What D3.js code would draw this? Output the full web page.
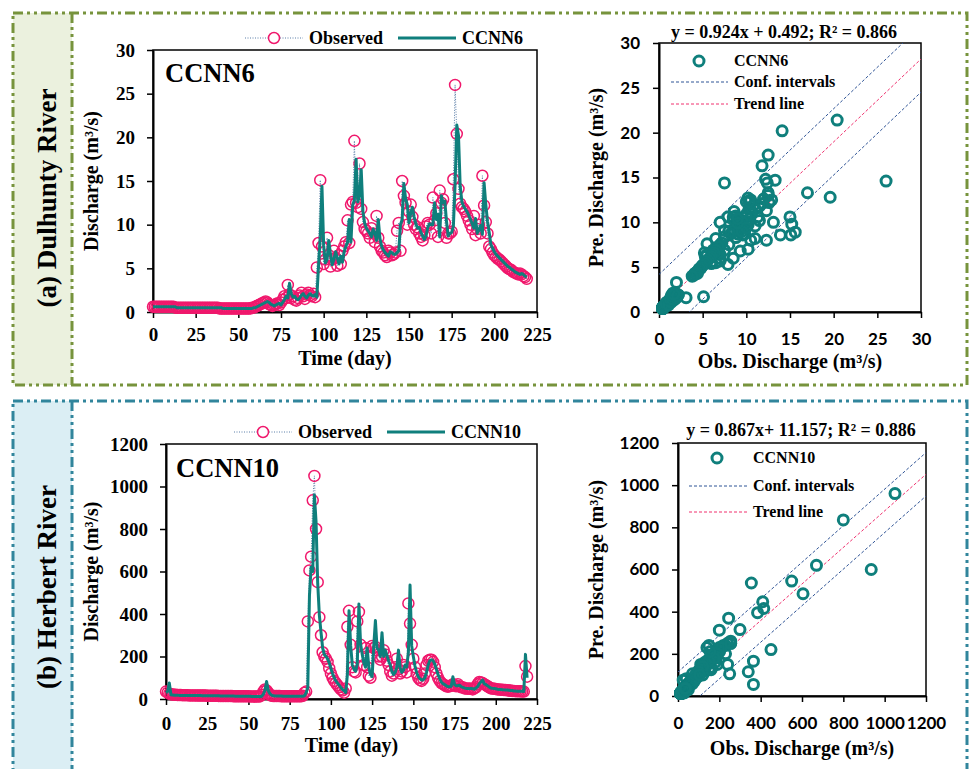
<!DOCTYPE html>
<html>
<head>
<meta charset="utf-8">
<script src="https://cdn.jsdelivr.net/npm/d3@7"></script>
<style>
  body { margin: 0; background: #fff; }
</style>
</head>
<body>
<svg id="chart" width="970" height="769"></svg>
<script>
// ---- data ----
const obsDulhunty = [
  0.6,0.6,0.6,0.6,0.6,0.6,0.6,0.6,0.6,0.6,
  0.6,0.6,0.6,0.5,0.5,0.5,0.5,0.5,0.5,0.5,
  0.5,0.5,0.5,0.5,0.5,0.5,0.5,0.5,0.5,0.5,
  0.5,0.5,0.5,0.5,0.5,0.5,0.5,0.5,0.5,0.4,
  0.4,0.4,0.4,0.4,0.4,0.4,0.4,0.4,0.4,0.4,
  0.4,0.4,0.4,0.4,0.4,0.4,0.4,0.4,0.5,0.5,
  0.6,0.7,0.8,0.9,1.0,1.1,1.2,1.1,0.9,0.8,
  0.7,0.8,0.9,1.0,0.8,1.1,1.4,1.8,1.6,3.1,
  2.0,1.6,1.8,1.4,1.3,1.6,1.9,2.2,1.8,1.5,
  2.0,2.2,1.9,1.8,2.1,1.7,5.1,7.9,15.1,7.5,
  5.5,6.0,8.5,6.5,5.2,6.0,7.0,6.2,5.3,6.5,
  5.5,7.0,7.5,8.0,10.5,7.9,12.3,12.6,19.6,12.5,
  12.0,17.0,11.8,10.3,9.5,9.3,9.0,8.5,9.6,9.0,
  8.0,11.0,8.5,7.5,7.0,6.8,6.5,6.3,7.0,6.8,
  6.5,6.6,6.8,9.3,10.2,7.0,15.0,13.3,12.5,10.0,
  11.5,12.3,10.9,10.0,9.5,9.7,9.0,8.6,8.2,8.8,
  9.8,10.2,10.0,9.0,13.1,10.5,11.3,8.6,13.9,12.5,
  12.9,10.2,8.5,9.0,9.0,9.2,15.2,26.0,20.4,14.1,
  12.4,12.0,11.8,11.5,11.0,10.5,10.0,9.5,11.0,8.8,
  9.5,10.0,9.0,15.6,12.2,10.3,9.0,7.5,7.2,6.8,
  6.5,6.3,6.1,6.0,5.8,5.6,5.4,5.2,5.0,4.9,
  4.8,4.6,4.5,4.4,4.3,4.4,4.3,4.1,4.0,3.8
];
const preDulhunty = [
  0.6,0.6,0.6,0.6,0.6,0.6,0.6,0.6,0.6,0.6,
  0.6,0.6,0.6,0.6,0.5,0.5,0.5,0.5,0.5,0.5,
  0.5,0.5,0.5,0.5,0.5,0.5,0.5,0.5,0.5,0.5,
  0.5,0.5,0.5,0.5,0.5,0.5,0.5,0.5,0.5,0.5,
  0.5,0.4,0.4,0.4,0.4,0.4,0.4,0.4,0.4,0.4,
  0.4,0.4,0.4,0.4,0.4,0.4,0.4,0.4,0.4,0.5,
  0.5,0.6,0.7,0.8,0.9,1.0,1.1,1.2,1.1,0.9,
  0.8,0.7,0.8,0.9,1.0,0.8,1.1,1.4,1.8,1.6,
  3.3,2.1,1.7,1.8,1.5,1.4,1.6,1.9,2.1,1.8,
  1.6,1.9,2.1,1.9,1.8,2.0,1.7,5.3,8.6,14.4,
  7.6,5.6,6.0,8.2,6.6,5.4,6.0,6.9,6.2,5.5,
  6.4,5.7,6.9,7.5,8.0,10.6,8.0,12.2,12.8,17.5,
  12.6,13.3,16.3,11.5,10.2,9.6,9.3,9.0,8.6,9.5,
  9.0,8.2,10.6,8.4,7.5,7.1,6.8,6.6,6.4,6.9,
  6.8,6.6,6.6,6.8,7.0,10.0,10.6,14.7,13.0,12.3,
  10.2,11.3,12.0,10.9,10.1,9.6,9.7,9.1,8.7,8.3,
  8.7,9.7,10.1,10.0,10.0,12.5,10.6,11.2,8.6,13.3,
  12.5,12.7,10.3,8.7,9.0,9.1,9.8,14.6,21.4,20.2,
  14.4,12.6,12.1,11.8,11.5,11.1,10.6,10.1,9.6,10.7,
  9.0,9.4,9.9,8.9,14.8,12.3,10.4,9.1,7.7,7.3,
  6.9,6.6,6.4,6.2,6.0,5.8,5.6,5.4,5.2,5.1,
  4.9,4.8,4.6,4.5,4.4,4.3,4.4,4.3,4.1,4.0
];
const obsHerbert = [
  35,30,25,22,21,20,20,19,19,19,
  18,18,18,18,17,17,17,17,17,16,
  16,16,16,16,16,15,15,15,15,15,
  15,15,14,14,14,14,14,14,14,14,
  14,13,13,13,13,13,13,13,13,13,
  13,12,12,12,12,12,12,12,20,35,
  45,40,30,20,15,14,14,14,14,14,
  13,13,13,13,13,13,13,13,13,13,
  13,13,13,15,30,35,365,605,670,935,
  1050,800,550,385,300,220,200,190,175,145,
  120,100,85,75,65,55,45,40,30,50,
  340,415,255,150,130,125,365,410,255,200,
  160,240,150,110,100,250,240,245,230,200,
  185,200,230,210,180,160,130,110,120,150,
  190,140,120,130,160,150,125,450,355,255,
  190,150,120,100,90,85,95,120,160,180,
  185,185,175,150,120,100,85,75,70,65,
  60,58,60,62,70,65,60,70,60,55,
  55,50,50,48,50,48,45,50,55,70,
  80,78,75,70,65,60,55,50,50,48,
  47,45,45,44,43,42,42,41,40,40,
  38,38,37,37,36,36,35,35,155,105
];
const preHerbert = [
  30,35,75,20,19,18,18,18,17,17,
  17,17,17,17,16,16,16,16,16,16,
  16,16,15,15,15,15,15,15,15,15,
  15,15,15,14,14,14,14,14,14,14,
  14,14,13,13,13,13,13,13,13,13,
  13,13,12,12,12,12,12,12,12,22,
  40,82,40,25,18,15,14,14,14,14,
  14,13,13,13,13,13,13,13,13,13,
  13,13,13,13,15,30,55,485,620,600,
  960,835,545,395,315,240,210,200,190,170,
  145,120,100,85,75,65,55,45,40,30,
  115,415,250,160,140,130,165,447,260,210,
  170,150,240,150,115,105,250,369,240,230,
  200,312,200,230,205,180,160,130,115,125,
  150,230,145,125,135,160,150,220,536,250,
  200,155,125,105,95,90,90,100,125,160,
  180,185,180,165,140,115,95,80,72,68,
  62,58,58,60,105,68,62,62,65,58,
  55,52,50,50,48,50,48,46,52,58,
  72,80,89,72,68,62,57,52,50,49,
  48,46,45,45,44,43,42,42,41,40,
  40,38,38,37,37,36,36,35,210,100
];
const timeTicks = [0, 25, 50, 75, 100, 125, 150, 175, 200, 225];
const dulTicks = [0, 5, 10, 15, 20, 25, 30];
const herTicks = [0, 200, 400, 600, 800, 1000, 1200];
const dulFit = { slope: 0.924, icpt: 0.492, band: 3.7 };
const herFit = { slope: 0.867, icpt: 11.157, band: 103 };

// ---- styles ----
const SERIF = '"Liberation Serif", "Times New Roman", serif';
const SANS = 'Lato, "Open Sans", sans-serif';
const PINK = "#f0186c";
const TEAL = "#0f7f7c";
const plain = d3.format("d");

const svg = d3.select("#chart");

function text(g, x, y, str, size, opt = {}) {
  const t = g.append("text")
    .attr("x", x).attr("y", y)
    .attr("text-anchor", opt.anchor || "start")
    .style("font-family", opt.font || SERIF)
    .style("font-weight", "bold")
    .style("font-size", size + "px")
    .attr("fill", "#000")
    .text(str);
  if (opt.rotate) t.attr("transform", `rotate(-90, ${x}, ${y})`);
  return t;
}

function styleAxis(g, font, size) {
  g.select(".domain").attr("stroke", "#000").attr("stroke-width", 2);
  g.selectAll(".tick line").attr("stroke", "#000").attr("stroke-width", 1.5);
  g.selectAll(".tick text")
    .style("font-family", font).style("font-size", size + "px")
    .style("font-weight", "bold").attr("fill", "#000");
}

//Panel frames with dash-dot-dot border
function panel(y0, h, stroke, fill, name) {
  svg.append("rect").attr("x", 13).attr("y", y0).attr("width", 59).attr("height", h).attr("fill", fill);
  const dash = "10,4,3,4,3,4";
  svg.append("rect").attr("x", 13).attr("y", y0).attr("width", 954).attr("height", h)
    .attr("fill", "none").attr("stroke", stroke).attr("stroke-width", 3).attr("stroke-dasharray", dash);
  svg.append("line").attr("x1", 72).attr("x2", 72).attr("y1", y0).attr("y2", y0 + h)
    .attr("stroke", stroke).attr("stroke-width", 3).attr("stroke-dasharray", dash);
  text(svg, 56, y0 + name.cy, name.label, 27, { anchor: "middle", rotate: true });
}

panel(13, 372, "#77933c", "#ebf1de", { label: "(a) Dulhunty River", cy: 185 });
panel(401, 400, "#31859c", "#dbeef4", { label: "(b) Herbert River", cy: 186 });

//Time series chart
function timeChart(c) {
  const g = svg.append("g");
  const x = d3.scaleLinear().domain([0, 225]).range([c.l, c.r]);
  const y = d3.scaleLinear().domain([0, c.yMax]).range([c.b, c.t]);

  g.append("rect").attr("x", c.l).attr("y", c.t).attr("width", c.r - c.l).attr("height", c.b - c.t)
    .attr("fill", "none").attr("stroke", "#000").attr("stroke-width", 1.5);

  g.append("g").attr("transform", `translate(0,${c.b})`)
    .call(d3.axisBottom(x).tickValues(timeTicks).tickFormat(plain).tickSize(6).tickSizeOuter(0).tickPadding(c.xPad))
    .call(styleAxis, SERIF, 19);
  g.append("g").attr("transform", `translate(${c.l},0)`)
    .call(d3.axisLeft(y).tickValues(c.yTicks).tickFormat(plain).tickSize(6).tickSizeOuter(0).tickPadding(12))
    .call(styleAxis, SERIF, 19);

  const line = d3.line().x((d, i) => x(i)).y(d => y(d));

  g.append("path").datum(c.obs).attr("d", line)
    .attr("fill", "none").attr("stroke", "#5a7ea8").attr("stroke-width", 1).attr("stroke-dasharray", "1,1.5");
  g.selectAll("circle.obs").data(c.obs).join("circle").attr("class", "obs")
    .attr("cx", (d, i) => x(i)).attr("cy", d => y(d)).attr("r", 5.5)
    .attr("fill", "none").attr("stroke", PINK).attr("stroke-width", 1.5);
  g.append("path").datum(c.pre).attr("d", line)
    .attr("fill", "none").attr("stroke", TEAL).attr("stroke-width", 3).attr("stroke-linejoin", "round");

  //legend above plot
  const ly = c.legY;
  g.append("line").attr("x1", c.legX).attr("x2", c.legX + 58).attr("y1", ly).attr("y2", ly)
    .attr("stroke", "#5a7ea8").attr("stroke-width", 1).attr("stroke-dasharray", "1,1.5");
  g.append("circle").attr("cx", c.legX + 29).attr("cy", ly).attr("r", 5.5)
    .attr("fill", "#fff").attr("stroke", PINK).attr("stroke-width", 1.5);
  text(g, c.legX + 64, ly + 6, "Observed", 18);
  g.append("line").attr("x1", c.legX + 153).attr("x2", c.legX + 211).attr("y1", ly).attr("y2", ly)
    .attr("stroke", TEAL).attr("stroke-width", 3);
  text(g, c.legX + 217, ly + 6, c.name, 18);

  text(g, c.l + c.titleDx, c.t + c.titleDy, c.name, 26.5);
  text(g, (c.l + c.r) / 2, c.b + 53, "Time (day)", 20, { anchor: "middle" });
  text(g, 98, (c.t + c.b) / 2, "Discharge (m³/s)", 20, { anchor: "middle", rotate: true });
}

//Scatter of observed vs predicted
function scatterChart(c) {
  const g = svg.append("g");
  const x = d3.scaleLinear().domain([0, c.max]).range([c.l, c.r]);
  const y = d3.scaleLinear().domain([0, c.max]).range([c.b, c.t]);

  svg.append("clipPath").attr("id", c.id).append("rect")
    .attr("x", c.l).attr("y", c.t).attr("width", c.r - c.l).attr("height", c.b - c.t);

  g.append("rect").attr("x", c.l).attr("y", c.t).attr("width", c.r - c.l).attr("height", c.b - c.t)
    .attr("fill", "none").attr("stroke", "#000").attr("stroke-width", 1.5);
  g.append("g").attr("transform", `translate(0,${c.b})`)
    .call(d3.axisBottom(x).tickValues(c.ticks).tickFormat(plain).tickSize(6).tickSizeOuter(0).tickPadding(15))
    .call(styleAxis, SANS, 17);
  g.append("g").attr("transform", `translate(${c.l},0)`)
    .call(d3.axisLeft(y).tickValues(c.ticks).tickFormat(plain).tickSize(6).tickSizeOuter(0).tickPadding(13))
    .call(styleAxis, SANS, 17);

  const f = c.fit;
  const fitLines = [
    { off: f.band, color: "#2f5496" },
    { off: -f.band, color: "#2f5496" },
    { off: 0, color: "#f0306e" }
  ];
  const lg = g.append("g").attr("clip-path", `url(#${c.id})`);
  fitLines.forEach(d => {
    lg.append("line")
      .attr("x1", x(0)).attr("y1", y(f.icpt + d.off))
      .attr("x2", x(c.max)).attr("y2", y(f.slope * c.max + f.icpt + d.off))
      .attr("stroke", d.color).attr("stroke-width", 1).attr("stroke-dasharray", "3,2");
  });

  const pairs = c.obs.map((o, i) => [o, c.pre[i]]);
  g.selectAll("circle.pt").data(pairs).join("circle").attr("class", "pt")
    .attr("cx", d => x(d[0])).attr("cy", d => y(d[1])).attr("r", 5)
    .attr("fill", "none").attr("stroke", TEAL).attr("stroke-width", 3);

  text(g, c.eqX, c.t - c.eqDy, c.eq, 18, { anchor: "middle" });

  //legend
  const L = c.leg;
  g.append("circle").attr("cx", L.cx).attr("cy", L.y0).attr("r", 5)
    .attr("fill", "none").attr("stroke", TEAL).attr("stroke-width", 3);
  text(g, L.tx, L.y0 + 5, c.name, 16);
  g.append("line").attr("x1", L.lx0).attr("x2", L.lx1).attr("y1", L.y1).attr("y2", L.y1)
    .attr("stroke", "#2f5496").attr("stroke-width", 1).attr("stroke-dasharray", "3,2");
  text(g, L.tx, L.y1 + 5, "Conf. intervals", 16);
  g.append("line").attr("x1", L.lx0).attr("x2", L.lx1).attr("y1", L.y2).attr("y2", L.y2)
    .attr("stroke", "#f0306e").attr("stroke-width", 1).attr("stroke-dasharray", "3,2");
  text(g, L.tx, L.y2 + 5, "Trend line", 16);

  text(g, c.xlX, c.b + c.xlDy, "Obs. Discharge (m³/s)", 20, { anchor: "middle" });
  text(g, 603, (c.t + c.b) / 2, "Pre. Discharge (m³/s)", 20, { anchor: "middle", rotate: true });
}

timeChart({
  l: 153, r: 537, t: 50, b: 312, yMax: 30, yTicks: dulTicks, xPad: 10,
  obs: obsDulhunty, pre: preDulhunty, name: "CCNN6",
  legX: 245, legY: 38, titleDx: 12, titleDy: 32
});
timeChart({
  l: 166, r: 537, t: 444, b: 699, yMax: 1200, yTicks: herTicks, xPad: 12,
  obs: obsHerbert, pre: preHerbert, name: "CCNN10",
  legX: 234, legY: 432, titleDx: 10, titleDy: 33
});

scatterChart({
  id: "clipA", l: 659, r: 921, t: 43, b: 312, max: 30, ticks: dulTicks,
  obs: obsDulhunty, pre: preDulhunty, fit: dulFit, name: "CCNN6",
  eq: "y = 0.924x + 0.492; R² = 0.866", eqX: 784, eqDy: 5,
  leg: { cx: 699, tx: 734, lx0: 671, lx1: 728, y0: 61, y1: 82, y2: 104 },
  xlX: 790, xlDy: 56
});
scatterChart({
  id: "clipB", l: 678, r: 926, t: 443, b: 696, max: 1200, ticks: herTicks,
  obs: obsHerbert, pre: preHerbert, fit: herFit, name: "CCNN10",
  eq: "y = 0.867x+ 11.157; R² = 0.886", eqX: 801, eqDy: 7,
  leg: { cx: 717, tx: 753, lx0: 689, lx1: 747, y0: 458, y1: 486, y2: 512 },
  xlX: 802, xlDy: 59
});
</script>
</body>
</html>
